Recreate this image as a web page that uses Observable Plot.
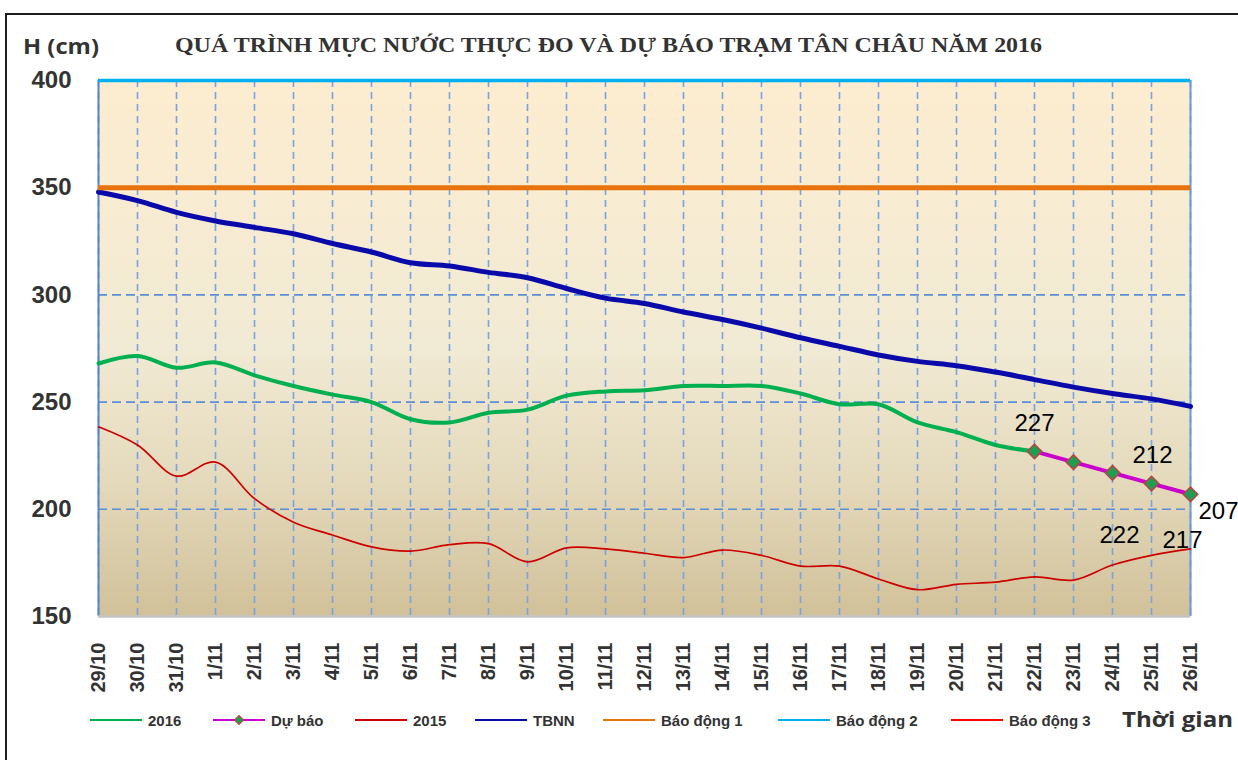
<!DOCTYPE html>
<html>
<head>
<meta charset="utf-8">
<script src="https://cdn.jsdelivr.net/npm/d3@7"></script>
<script src="https://cdn.jsdelivr.net/npm/@observablehq/plot@0.6"></script>
<style>
  body { margin: 0; background: #fff; }
  #wrap { position: relative; width: 1238px; height: 760px; overflow: hidden; background: #fff; }
  #border { position: absolute; left: 5px; top: 13px; width: 1400px; height: 900px; border: 2px solid #1e1e1e; }
  #plot { position: absolute; left: 0; top: 0; }
  #overlay { position: absolute; left: 0; top: 0; }
</style>
</head>
<body>
<div id="wrap">
  <div id="border"></div>
  <svg width="0" height="0" style="position:absolute">
    <defs>
      <linearGradient id="bggrad" x1="0" y1="0" x2="0" y2="1">
        <stop offset="0" stop-color="#FDEDD0"/>
        <stop offset="0.5" stop-color="#F1EAD4"/>
        <stop offset="0.75" stop-color="#E4D9BB"/>
        <stop offset="1" stop-color="#D1C19A"/>
      </linearGradient>
    </defs>
  </svg>
  <div id="plot"></div>
  <svg id="overlay" width="1238" height="760"></svg>
</div>
<script>
// ---------- data ----------
const dates = ["29/10","30/10","31/10","1/11","2/11","3/11","4/11","5/11","6/11","7/11",
  "8/11","9/11","10/11","11/11","12/11","13/11","14/11","15/11","16/11","17/11",
  "18/11","19/11","20/11","21/11","22/11","23/11","24/11","25/11","26/11"];
const tbnn = [348,344,338.5,334.5,331.5,328.5,324,320,315,313.5,310.5,308,303,298.5,296,292,288.5,284.5,280,276,272,269,267,264,260.5,257,254,251.5,248];
const obs2016 = [268,271.5,266,268.5,262.5,257.5,253.5,250,242,240.5,245,246.5,253,255,255.5,257.5,257.5,257.5,254,249,249,240.5,236,230,227];
const obs2015 = [238.5,230,215.5,222,205,194,188,182.5,180.5,183.5,184,175.5,182,181.5,179.5,177.5,181,178.5,173.5,173.5,167.5,162.5,165,166,168.5,167,174,178.5,181.5];
const forecastDates = ["22/11","23/11","24/11","25/11","26/11"];
const forecast = [227,222,217,212,207];
const alert1 = 350, alert2 = 400;
const yTicks = [150,200,250,300,350,400];
const yGrid = [200,250,300];
const title = "QUÁ TRÌNH MỰC NƯỚC THỰC ĐO VÀ DỰ BÁO TRẠM TÂN CHÂU NĂM 2016";
const yLabel = "H (cm)";
const xLabel = "Thời gian";
const legendNames = ["2016","Dự báo","2015","TBNN","Báo động 1","Báo động 2","Báo động 3"];

// ---------- build ----------
const rows = (xs, ys) => ys.map((v, i) => ({date: xs[i], v}));
const r2016 = rows(dates, obs2016);
const r2015 = rows(dates, obs2015);
const rTbnn = rows(dates, tbnn);
const rFc = rows(forecastDates, forecast);

const C = {g: "#00B050", fc: "#CC00CC", r: "#CC0000", tb: "#0A0AAA", a1: "#E8720C", a2: "#00B0F0", a3: "#FF0000"};
const font = "'Liberation Sans', Arial, sans-serif";

// data label offsets (layout only)
const lblOff = [[0,-28],[46,73],[70,67],[1,-28],[28,17]];

const marks = [
  Plot.frame({fill: "url(#bggrad)", stroke: "none"}),
  Plot.gridX(dates, {stroke: "#78A2E2", strokeOpacity: 1, strokeWidth: 1.6, strokeDasharray: "7,5"}),
  Plot.gridY(yGrid, {stroke: "#5B8DD8", strokeOpacity: 1, strokeWidth: 1.6, strokeDasharray: "9,5"}),
  Plot.ruleX([dates[0]], {stroke: "#5585CF", strokeWidth: 2}),
  Plot.ruleX([dates[dates.length - 1]], {stroke: "#6C97DA", strokeWidth: 2}),
  Plot.ruleY([150], {stroke: "#C4C4C4", strokeWidth: 2.5}),
  Plot.lineY(r2015, {x: "date", y: "v", stroke: C.r, strokeWidth: 1.7, curve: "catmull-rom"}),
  Plot.lineY(r2016, {x: "date", y: "v", stroke: C.g, strokeWidth: 4, curve: "catmull-rom"}),
  Plot.lineY(rFc, {x: "date", y: "v", stroke: C.fc, strokeWidth: 4}),
  Plot.lineY(rTbnn, {x: "date", y: "v", stroke: C.tb, strokeWidth: 5, curve: "catmull-rom"}),
  Plot.ruleY([alert1], {stroke: C.a1, strokeWidth: 5}),
  Plot.ruleY([alert2], {stroke: C.a2, strokeWidth: 3.5}),
  Plot.dot(rFc, {x: "date", y: "v", symbol: "diamond2", r: 6.5, fill: "#1E9E50", stroke: "#B24848", strokeWidth: 1.6}),
  ...rFc.map((d, i) => Plot.text([d], {x: "date", y: "v", text: d => String(d.v), dx: lblOff[i][0], dy: lblOff[i][1],
      fontSize: 24, fill: "#000", fontFamily: font})),
  Plot.axisY(yTicks, {tickSize: 0, tickPadding: 27, fontSize: 24, fontWeight: "bold", fill: "#333", fontFamily: font}),
  Plot.axisX(dates, {tickSize: 0, tickPadding: 26, tickRotate: -90, fontSize: 20, fontWeight: "bold", fill: "#333", fontFamily: font})
];

const chart = Plot.plot({
  width: 1238,
  height: 700,
  marginLeft: 98,
  marginRight: 48,
  marginTop: 80,
  marginBottom: 84,
  x: {type: "point", domain: dates, padding: 0, label: null},
  y: {domain: [150, 400], label: null},
  style: {background: "transparent", fontFamily: font, overflow: "visible"},
  marks
});
document.getElementById("plot").appendChild(chart);

// ---------- overlay texts & legend ----------
const ov = d3.select("#overlay");
ov.append("text").attr("x", 175).attr("y", 52).attr("textLength", 867).attr("lengthAdjust", "spacingAndGlyphs")
  .attr("font-family", "'Liberation Serif', 'Times New Roman', serif").attr("font-weight", "bold")
  .attr("font-size", 21).attr("fill", "#333").text(title);
ov.append("text").attr("x", 23).attr("y", 54).attr("textLength", 76).attr("lengthAdjust", "spacingAndGlyphs")
  .attr("font-family", "'Open Sans', sans-serif").attr("font-weight", "bold")
  .attr("font-size", 21).attr("fill", "#333").text(yLabel);
ov.append("text").attr("x", 1122).attr("y", 727).attr("textLength", 111).attr("lengthAdjust", "spacingAndGlyphs")
  .attr("font-family", "'Open Sans', sans-serif").attr("font-weight", "bold")
  .attr("font-size", 21).attr("fill", "#333").text(xLabel);

const legColors = [C.g, C.fc, C.r, C.tb, C.a1, C.a2, C.a3];
const legX = [90, 213, 355, 475, 603, 778, 951];
legendNames.forEach((name, i) => {
  const x0 = legX[i];
  ov.append("line").attr("x1", x0).attr("x2", x0 + 52).attr("y1", 720).attr("y2", 720)
    .attr("stroke", legColors[i]).attr("stroke-width", 2.2);
  if (i === 1) {
    ov.append("path").attr("d", d3.symbol(d3.symbolSquare, 40)())
      .attr("transform", `translate(${x0 + 26},720) rotate(45)`)
      .attr("fill", "#1E9E50").attr("stroke", "#B24848").attr("stroke-width", 1.2);
  }
  ov.append("text").attr("x", x0 + 58).attr("y", 726).attr("font-family", font).attr("font-weight", "bold")
    .attr("font-size", 15).attr("fill", "#333").text(name);
});
</script>
</body>
</html>
